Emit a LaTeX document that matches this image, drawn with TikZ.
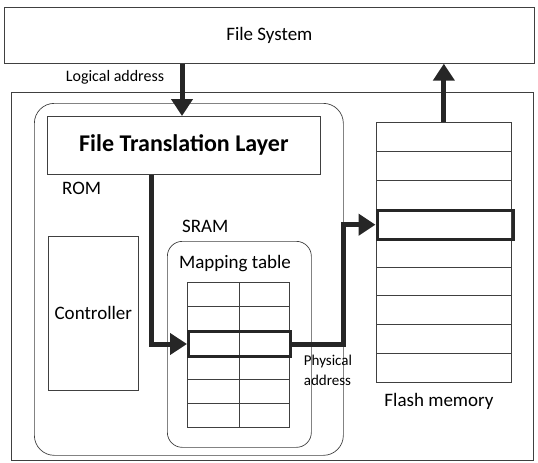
\documentclass[tikz,border=0pt]{standalone}
\usepackage{fontspec}
\setmainfont{Carlito}
\usetikzlibrary{arrows.meta,positioning}
\tikzset{
  basic/.style  = {draw=black!75, line width=0.7pt, rectangle, inner sep=0pt, font=\fontsize{19}{22}\selectfont},
  block/.style  = {basic, anchor=north west},
  region/.style = {basic, anchor=north west, rounded corners=#1},
  cell/.style   = {basic, anchor=north west, minimum height=24.2pt},
  slot/.style   = {basic, anchor=north west, minimum width=135pt, minimum height=28.9pt},
  hot/.style    = {draw=black!85, line width=3pt, rectangle, inner sep=0pt, anchor=north west},
  label/.style  = {inner sep=0pt, font=\fontsize{19}{22}\selectfont},
  bigarrow/.style = {draw=black!85, line width=5pt, -{Triangle[length=17pt,width=21pt]}}
}
\begin{document}
\begin{tikzpicture}[x=1pt,y=-1pt]
  \useasboundingbox (0,0) rectangle (538,463);
  % host side
  \node[block, minimum width=530pt, minimum height=56pt] (fs) at (4,7) {File System};
  % device
  \node[block, minimum width=522pt, minimum height=368pt] (dev) at (11,92) {};
  \node[region=20pt, minimum width=309pt, minimum height=352pt] (rom) at (34,103) {};
  \node[block, minimum width=273pt, minimum height=58pt, font=\bfseries\fontsize{24}{28}\selectfont] (ftl) at (47,116) {File Translation Layer};
  \node[label, anchor=west] (romlbl) at (62,188) {ROM};
  \node[block, minimum width=90pt, minimum height=154pt] (ctrl) at (48,236) {Controller};
  \node[label, anchor=west] (sramlbl) at (182,226) {SRAM};
  \node[region=15pt, minimum width=144pt, minimum height=206pt] (sram) at (167,241) {};
  \node[label] (maplbl) at (235,264) {Mapping table};
  % mapping table
  \foreach \i in {1,...,6} {
    \node[cell, minimum width=52pt] (ml\i) at (187,{282+(\i-1)*24.2}) {};
    \node[cell, minimum width=50pt] (mr\i) at (239,{282+(\i-1)*24.2}) {};
  }
  \node[hot, minimum width=102pt, minimum height=24.2pt] (m3) at (ml3.north west) {};
  % flash memory
  \foreach \i in {1,...,9}
    \node[slot] (f\i) at (376,{122+(\i-1)*28.9}) {};
  \node[hot, minimum width=136pt, minimum height=29pt] (f4) at (375.5,{122+3*28.9}) {};
  \node[label] (flashlbl) at (439,401) {Flash memory};
  % addresses
  \node[label, font=\fontsize{16}{18}\selectfont] (lalbl) at (115,77) {Logical address};
  \node[label, align=left, font=\fontsize{15}{20}\selectfont] (palbl) at (328,370) {Physical\\address};
  \coordinate (la) at (182,0);
  \coordinate (c1) at (151,0);
  \coordinate (c2) at (343,0);
  \draw[bigarrow] (la |- fs.south) -- (la |- ftl.north);
  \draw[bigarrow] (f1.north) -- (f1.north |- fs.south);
  \draw[bigarrow] (c1 |- ftl.south) |- (m3.west);
  \draw[bigarrow] (m3.east) -| (c2 |- f4.west) -- (f4.west);
\end{tikzpicture}
\end{document}
